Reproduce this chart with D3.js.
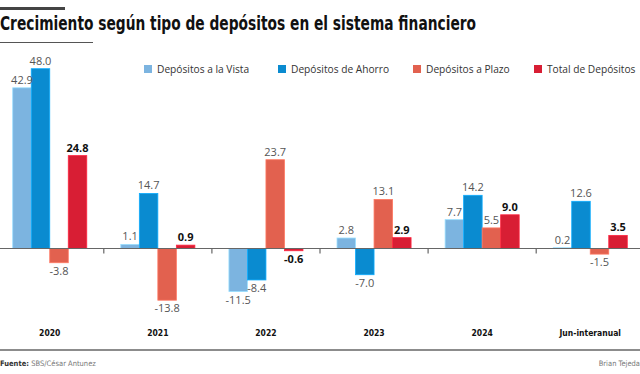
<!DOCTYPE html>
<html>
<head>
<meta charset="utf-8">
<script src="https://cdn.jsdelivr.net/npm/d3@7"></script>
<style>
  body { margin: 0; background: #fff; }
  svg { display: block; }
  .val { font-family: "Open Sans", sans-serif; font-size: 11px; fill: #555; }
  .val.total { font-weight: 700; fill: #111; }
  .legend-text { font-family: "Open Sans", sans-serif; font-size: 10.2px; fill: #333; }
  .cat { font-family: "DejaVu Sans Condensed", "DejaVu Sans", sans-serif; font-weight: 700; font-size: 8.5px; fill: #111; }
  .foot { font-family: "DejaVu Sans Condensed", "DejaVu Sans", sans-serif; font-size: 7.5px; fill: #777; }
</style>
</head>
<body>
<div id="chart"></div>
<script>
// Data
const categories = ["2020", "2021", "2022", "2023", "2024", "Jun-interanual"]
const seriesNames = ["Depósitos a la Vista", "Depósitos de Ahorro", "Depósitos a Plazo", "Total de Depósitos"]
const vista = [42.9, 1.1, -11.5, 2.8, 7.7, 0.2]
const ahorro = [48.0, 14.7, -8.4, -7.0, 14.2, 12.6]
const plazo = [-3.8, -13.8, 23.7, 13.1, 5.5, -1.5]
const total = [24.8, 0.9, -0.6, 2.9, 9.0, 3.5]
const colors = ["#7cb4e0", "#0a8bd0", "#e2614f", "#d81e34"]

const width = 640, height = 374;

const svg = d3.select("#chart").append("svg")
    .attr("width", width)
    .attr("height", height);

// Header
svg.append("rect").attr("x", 0).attr("y", 7).attr("width", 65).attr("height", 3).attr("fill", "#444");
svg.append("text")
    .attr("x", 0).attr("y", 30)
    .attr("textLength", 476).attr("lengthAdjust", "spacingAndGlyphs")
    .style("font-family", "'Liberation Sans Narrow', 'DejaVu Sans Condensed', sans-serif")
    .style("font-weight", 700).style("font-size", "20px").style("fill", "#111")
    .text("Crecimiento según tipo de depósitos en el sistema financiero");
svg.append("line").attr("x1", 0).attr("x2", 93).attr("y1", 42.5).attr("y2", 42.5)
    .attr("stroke", "#555").attr("stroke-width", 1);

// Scales
const x0 = d3.scaleBand()
    .domain(categories)
    .range([-4.3, 644.3])
    .paddingInner(0.315)
    .paddingOuter(0.1575);

const x1 = d3.scaleBand()
    .domain(d3.range(seriesNames.length))
    .range([0, x0.bandwidth()]);

const y = d3.scaleLinear()
    .domain([0, 48])
    .range([248.5, 68.7]);

const table = categories.map((c, i) => ({
    cat: c,
    values: [vista[i], ahorro[i], plazo[i], total[i]]
}));

// Bars
const groups = svg.append("g").selectAll("g.group")
    .data(table)
    .join("g")
    .attr("class", "group")
    .attr("transform", d => "translate(" + x0(d.cat) + ",0)");

groups.selectAll("rect")
    .data(d => d.values.map((v, k) => ({ v: v, k: k })))
    .join("rect")
    .attr("x", d => x1(d.k))
    .attr("width", x1.bandwidth())
    .attr("y", d => y(Math.max(0, d.v)))
    .attr("height", d => Math.abs(y(d.v) - y(0)))
    .attr("fill", d => colors[d.k])
    .attr("stroke", d => d3.color(colors[d.k]).brighter(0.6))
    .attr("stroke-width", 0.8);

// Value labels (plain hyphen for negatives, as in the original)
groups.selectAll("text.val")
    .data(d => d.values.map((v, k) => ({ v: v, k: k })))
    .join("text")
    .attr("class", d => d.k === 3 ? "val total" : "val")
    .attr("x", d => x1(d.k) + x1.bandwidth() / 2)
    .attr("y", d => d.v >= 0 ? y(d.v) - 4 : y(d.v) + 12)
    .attr("text-anchor", "middle")
    .text(d => d.v.toFixed(1));

// Zero axis
svg.append("line")
    .attr("x1", 0).attr("x2", width)
    .attr("y1", y(0)).attr("y2", y(0))
    .attr("stroke", "#666").attr("stroke-width", 1.2);

const gap = x0.step() - x0.bandwidth();
svg.append("g").selectAll("line.tick")
    .data(categories.slice(1))
    .join("line")
    .attr("class", "tick")
    .attr("x1", d => x0(d) - gap / 2)
    .attr("x2", d => x0(d) - gap / 2)
    .attr("y1", y(0)).attr("y2", y(0) + 5)
    .attr("stroke", "#666").attr("stroke-width", 1.2);

// Category labels
svg.append("g").selectAll("text.cat")
    .data(categories)
    .join("text")
    .attr("class", "cat")
    .attr("x", d => x0(d) + x0.bandwidth() / 2)
    .attr("y", 335.5)
    .attr("text-anchor", "middle")
    .text(d => d);

// Legend
const legendX = [144, 278, 413, 534];
const legend = svg.append("g").selectAll("g.legend")
    .data(seriesNames)
    .join("g")
    .attr("class", "legend")
    .attr("transform", (d, i) => "translate(" + legendX[i] + ",65)");
legend.append("rect")
    .attr("width", 8).attr("height", 8)
    .attr("fill", (d, i) => colors[i]);
legend.append("text")
    .attr("class", "legend-text")
    .attr("x", 13).attr("y", 8)
    .text(d => d);

// Footer
svg.append("line").attr("x1", 0).attr("x2", width).attr("y1", 350).attr("y2", 350)
    .attr("stroke", "#666").attr("stroke-width", 1.3);
const src = svg.append("text").attr("class", "foot").attr("x", 0).attr("y", 365.5);
src.append("tspan").style("font-weight", 700).style("fill", "#333").text("Fuente: ");
src.append("tspan").text("SBS/César Antunez");
svg.append("text").attr("class", "foot")
    .attr("x", width).attr("y", 365.5)
    .attr("text-anchor", "end")
    .text("Brian Tejeda");
</script>
</body>
</html>
